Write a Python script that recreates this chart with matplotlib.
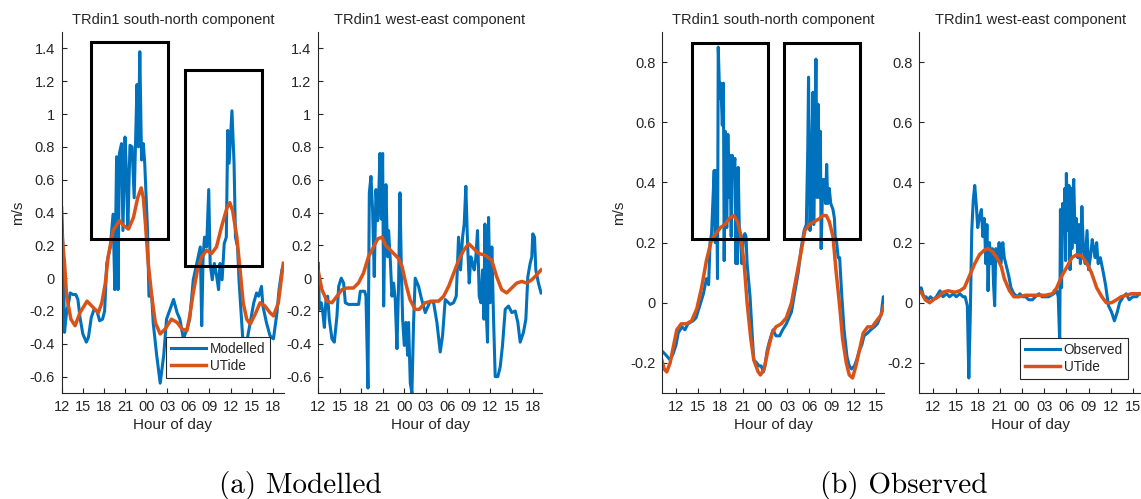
import matplotlib
matplotlib.use("Agg")
import matplotlib.pyplot as plt
from matplotlib.patches import Rectangle
from matplotlib.ticker import FixedLocator, FuncFormatter

plt.rcParams['font.family'] = ['Liberation Sans', 'DejaVu Sans']

BLUE = '#0072BD'
ORANGE = '#D95319'
DARK = '#262626'

# ---- (a) Modelled, south-north ----
mod_sn_t = [12.0, 12.2, 12.4, 12.7, 12.9, 13.2, 13.6, 14.0, 14.3, 14.6, 15.0, 15.5, 15.8, 16.2,
            16.6, 17.0, 17.4, 17.8, 18.1, 18.4, 18.9, 19.3, 19.55, 19.8, 20.0, 20.2, 20.5, 20.7,
            21.0, 21.2, 21.4, 21.7, 22.0, 22.3, 22.7, 22.9, 23.1, 23.35, 23.6, 23.8, 24.2, 24.4,
            24.8, 25.0, 25.5, 26.0, 26.5, 26.9, 27.4, 27.9, 28.4, 28.8, 29.3, 29.8, 30.2, 30.7,
            31.2, 31.7, 31.9, 32.1, 32.3, 32.6, 32.9, 33.1, 33.4, 33.7, 34.0, 34.3, 34.5, 34.8,
            35.1, 35.4, 35.6, 35.8, 36.2, 36.5, 36.7, 37.0, 37.2, 37.5, 37.8, 38.3, 38.8, 39.3,
            39.7, 40.0, 40.4, 40.6, 41.1, 41.6, 42.1, 42.6, 42.9, 43.3, 43.6]
mod_sn_v = [0.43, 0.15, -0.33, -0.20, -0.17, -0.09, -0.10, -0.10, -0.13, -0.24, -0.34, -0.39, -0.36, -0.24,
            -0.19, -0.20, -0.26, -0.25, -0.20, 0.09, 0.19, 0.39, -0.07, 0.74, -0.07, 0.76, 0.82, 0.29,
            0.86, 0.64, 0.30, 0.81, 0.80, 0.49, 1.18, 0.80, 1.38, 0.72, 0.82, 0.70, 0.29, -0.11,
            -0.11, -0.27, -0.47, -0.64, -0.47, -0.25, -0.19, -0.13, -0.21, -0.25, -0.37, -0.31, -0.25, -0.01,
            0.09, 0.19, -0.29, 0.13, 0.25, 0.19, 0.54, 0.09, -0.01, 0.09, 0.02, -0.07, 0.09, -0.01,
            0.21, 0.25, 0.90, 0.70, 1.02, 0.70, 0.25, 0.19, -0.01, -0.21, -0.41, -0.39, -0.27, -0.15,
            -0.09, -0.11, -0.05, -0.17, -0.27, -0.35, -0.37, -0.21, -0.07, 0.05, 0.09]
mod_sn_ut_t = [12.0, 12.4, 12.7, 13.3, 13.9, 14.6, 15.6, 16.5, 17.2, 17.7, 18.2, 18.6, 19.3, 20.2,
               20.8, 21.5, 22.2, 22.8, 23.3, 23.6, 23.9, 24.3, 24.8, 25.3, 26.0, 26.7, 27.6, 28.4,
               29.1, 29.8, 30.2, 30.7, 31.3, 31.9, 32.6, 33.3, 34.0, 34.7, 35.5, 35.9, 36.3, 36.9,
               37.4, 37.8, 38.3, 38.8, 39.5, 40.2, 40.9, 41.6, 42.1, 42.8, 43.5]
mod_sn_ut_v = [0.28, 0.09, -0.11, -0.25, -0.29, -0.21, -0.14, -0.18, -0.21, -0.15, -0.03, 0.13, 0.29, 0.35,
               0.32, 0.30, 0.37, 0.49, 0.55, 0.49, 0.33, 0.09, -0.11, -0.27, -0.34, -0.31, -0.25, -0.27,
               -0.31, -0.32, -0.23, -0.09, 0.05, 0.13, 0.17, 0.15, 0.19, 0.31, 0.43, 0.46, 0.41, 0.25,
               0.03, -0.15, -0.25, -0.28, -0.22, -0.15, -0.17, -0.21, -0.23, -0.15, 0.09]

# ---- (a) Modelled, west-east ----
mod_we_t = [12.0, 12.14, 12.42, 12.6, 12.84, 13.07, 13.3, 13.53, 13.9, 14.23, 14.6, 14.84, 15.2, 15.53,
            15.77, 16.23, 17.16, 17.63, 17.86, 18.47, 18.65, 18.93, 19.12, 19.35, 19.58, 19.81, 20.05,
            20.28, 20.42, 20.6, 20.79, 20.98, 21.12, 21.26, 21.44, 21.67, 21.81, 22.05, 22.28, 22.51,
            22.74, 22.98, 23.21, 23.4, 23.58, 23.77, 24.0, 24.23, 24.47, 24.6, 24.84, 25.07, 25.3,
            25.53, 26.0, 26.37, 26.93, 27.63, 28.1, 28.56, 29.02, 29.35, 29.72, 30.42, 30.88, 31.26,
            31.58, 31.86, 32.14, 32.37, 32.6, 32.84, 33.07, 33.3, 33.53, 33.77, 34.0, 34.23, 34.47,
            34.7, 34.93, 35.12, 35.26, 35.49, 35.63, 35.77, 36.0, 36.23, 36.47, 36.7, 37.07, 37.4,
            37.72, 38.1, 38.56, 39.02, 39.49, 39.86, 40.19, 40.65, 40.98, 41.26, 41.58, 41.81, 41.95,
            42.19, 42.37, 42.74, 43.1]
mod_we_v = [0.09, -0.19, -0.15, -0.20, -0.30, -0.13, -0.11, -0.25, -0.37, -0.39, -0.23, -0.05, 0.0, -0.03,
            -0.15, -0.16, -0.16, -0.16, -0.08, -0.08, -0.11, -0.67, 0.52, 0.62, 0.41, 0.01, 0.54,
            0.35, 0.48, 0.76, 0.36, 0.76, -0.17, 0.23, 0.57, 0.13, 0.29, 0.11, -0.11, -0.03,
            -0.13, -0.43, -0.03, 0.52, 0.09, -0.25, -0.41, -0.27, -0.47, -0.27, -0.64, -0.70, -0.27,
            0.0, -0.05, -0.12, -0.21, -0.14, -0.15, -0.27, -0.45, -0.35, -0.13, -0.16, -0.15, -0.11,
            0.25, 0.05, 0.25, 0.33, 0.56, 0.21, -0.03, 0.13, 0.09, 0.05, 0.13, 0.29, -0.11,
            -0.15, 0.05, -0.25, 0.33, -0.25, -0.39, 0.37, -0.15, 0.19, -0.25, -0.60, -0.60, -0.54,
            -0.41, -0.19, -0.17, -0.21, -0.20, -0.27, -0.39, -0.33, -0.25, 0.01, 0.09, 0.13, 0.27,
            0.25, 0.05, -0.03, -0.09]
mod_we_ut_t = [12.0, 12.5, 13.2, 13.9, 14.6, 15.3, 16.0, 16.9, 17.6, 18.3, 19.0, 19.7, 20.3, 20.9,
               21.4, 22.3, 23.2, 23.7, 24.2, 24.8, 25.5, 26.1, 26.9, 27.9, 28.8, 29.5, 30.2, 30.9,
               31.6, 32.3, 33.0, 33.7, 34.4, 35.3, 36.2, 36.9, 37.6, 38.3, 39.0, 39.7, 40.4, 41.1,
               41.8, 42.5, 43.1]
mod_we_ut_v = [0.04, -0.07, -0.14, -0.15, -0.11, -0.07, -0.06, -0.06, -0.03, 0.03, 0.13, 0.19, 0.24, 0.25,
               0.20, 0.16, 0.12, 0.07, -0.03, -0.13, -0.19, -0.19, -0.15, -0.14, -0.14, -0.11, -0.05, 0.03,
               0.11, 0.17, 0.21, 0.18, 0.15, 0.14, 0.11, 0.01, -0.07, -0.09, -0.06, -0.03, -0.02, -0.03,
               -0.01, 0.02, 0.05]

# ---- (b) Observed, south-north ----
obs_sn_t = [10.07, 10.5, 11.2, 11.6, 12.0, 12.3, 12.8, 13.2, 13.6, 14.3, 14.7, 15.2, 15.7, 16.1,
            16.4, 16.6, 16.8, 17.0, 17.15, 17.3, 17.45, 17.6, 17.7, 17.9, 18.05, 18.25, 18.4, 18.5,
            18.65, 18.85, 19.0, 19.2, 19.3, 19.45, 19.6, 19.75, 19.95, 20.1, 20.2, 20.3, 20.4, 20.55,
            20.75, 20.9, 21.1, 21.3, 21.45, 21.6, 22.0, 22.3, 22.5, 22.9, 23.2, 23.5, 23.8, 24.0,
            24.3, 24.6, 25.1, 25.5, 26.0, 26.4, 26.9, 27.6, 28.0, 28.5, 28.9, 29.3, 29.6, 29.8,
            29.9, 30.1, 30.3, 30.5, 30.6, 30.75, 30.9, 31.05, 31.2, 31.35, 31.5, 31.6, 31.75, 31.9,
            32.0, 32.1, 32.2, 32.35, 32.5, 32.7, 32.9, 33.2, 33.4, 33.5, 33.7, 33.9, 34.1, 34.4,
            34.7, 35.1, 35.4, 35.7, 36.1, 36.4, 36.75, 37.1, 37.4, 37.9, 38.3, 38.8, 39.2, 39.7,
            40.0, 40.1]
obs_sn_v = [-0.16, -0.17, -0.19, -0.17, -0.14, -0.10, -0.08, -0.09, -0.07, -0.06, -0.05, -0.01, 0.03, 0.08,
            0.06, 0.20, 0.23, 0.35, 0.44, 0.20, 0.44, 0.08, 0.85, 0.68, 0.73, 0.59, 0.73, 0.14,
            0.57, 0.25, 0.56, 0.35, 0.49, 0.22, 0.49, 0.44, 0.48, 0.13, 0.35, 0.13, 0.45, 0.24,
            0.20, 0.13, 0.22, 0.23, 0.22, 0.13, 0.02, -0.11, -0.19, -0.20, -0.21, -0.21, -0.23, -0.21,
            -0.16, -0.13, -0.09, -0.11, -0.11, -0.09, -0.07, -0.03, 0.03, 0.10, 0.18, 0.24, 0.26, 0.52,
            0.75, 0.24, 0.46, 0.70, 0.26, 0.52, 0.81, 0.35, 0.66, 0.35, 0.57, 0.18, 0.33, 0.41,
            0.37, 0.41, 0.33, 0.46, 0.33, 0.38, 0.33, 0.31, 0.28, 0.22, 0.20, 0.15, 0.15, 0.02,
            -0.09, -0.18, -0.21, -0.22, -0.21, -0.19, -0.16, -0.14, -0.11, -0.10, -0.09, -0.08, -0.07, -0.04,
            0.02, 0.02]
obs_sn_ut_t = [10.07, 10.4, 10.74, 11.2, 11.6, 12.1, 12.7, 13.4, 14.1, 14.8, 15.45, 16.1, 16.8, 17.4,
               18.0, 18.6, 19.2, 19.8, 20.3, 20.7, 21.2, 21.6, 22.1, 22.5, 23.1, 23.4, 23.9, 24.4,
               25.0, 25.5, 26.2, 26.9, 27.6, 28.2, 28.9, 29.4, 30.0, 30.7, 31.4, 31.8, 32.3, 32.7,
               33.2, 33.6, 34.1, 34.5, 35.0, 35.4, 35.85, 36.3, 36.75, 37.3, 37.9, 38.5, 39.1, 39.7,
               40.1]
obs_sn_ut_v = [-0.19, -0.22, -0.23, -0.20, -0.15, -0.09, -0.07, -0.07, -0.06, -0.02, 0.05, 0.14, 0.21, 0.23,
               0.25, 0.26, 0.28, 0.29, 0.27, 0.23, 0.13, 0.0, -0.12, -0.19, -0.23, -0.24, -0.22, -0.16,
               -0.10, -0.08, -0.07, -0.05, 0.0, 0.08, 0.17, 0.24, 0.26, 0.27, 0.28, 0.29, 0.29, 0.27,
               0.22, 0.11, -0.01, -0.12, -0.20, -0.24, -0.25, -0.21, -0.16, -0.10, -0.08, -0.08, -0.06, -0.04,
               -0.01]

# ---- (b) Observed, west-east ----
obs_we_t = [10.1, 10.35, 10.7, 11.0, 11.3, 11.6, 12.0, 12.4, 12.9, 13.3, 13.8, 14.2, 14.7, 15.1,
            15.6, 16.0, 16.3, 16.6, 16.8, 17.0, 17.2, 17.4, 17.6, 17.8, 18.0, 18.2, 18.5, 18.7,
            18.9, 19.1, 19.25, 19.4, 19.6, 19.8, 20.0, 20.15, 20.3, 20.45, 20.7, 20.9, 21.15, 21.4,
            21.6, 21.8, 22.2, 22.5, 22.9, 23.4, 23.7, 24.1, 24.5, 24.9, 25.4, 25.8, 26.3, 26.7,
            27.2, 27.6, 28.3, 28.7, 28.9, 29.1, 29.2, 29.35, 29.5, 29.65, 29.8, 29.9, 30.0, 30.2,
            30.35, 30.5, 30.6, 30.75, 30.9, 31.0, 31.2, 31.35, 31.55, 31.7, 31.9, 32.1, 32.3, 32.55,
            32.8, 33.0, 33.25, 33.5, 33.7, 33.9, 34.1, 34.3, 34.6, 35.0, 35.3, 35.7, 36.1, 36.5,
            36.9, 37.2, 37.7, 38.1, 38.5, 39.0, 39.5, 39.9]
obs_we_v = [0.04, 0.05, 0.02, 0.02, 0.01, 0.02, 0.01, 0.02, 0.04, 0.02, 0.03, 0.02, 0.03, 0.02,
            0.03, 0.02, 0.02, -0.01, -0.25, -0.04, 0.24, 0.34, 0.39, 0.33, 0.25, 0.28, 0.31, 0.22,
            0.28, 0.13, 0.26, 0.04, 0.20, 0.13, 0.18, 0.06, -0.01, 0.18, 0.15, 0.20, 0.13, 0.20,
            0.15, 0.13, 0.09, 0.05, 0.03, 0.02, 0.03, 0.02, 0.02, 0.01, 0.01, 0.02, 0.03, 0.02,
            0.02, 0.02, 0.03, 0.04, 0.02, -0.13, 0.31, 0.05, 0.33, 0.24, 0.38, 0.14, 0.43, 0.24,
            0.39, 0.11, 0.38, 0.18, 0.37, 0.41, 0.20, 0.28, 0.15, 0.26, 0.13, 0.32, 0.18, 0.13,
            0.24, 0.11, 0.15, 0.21, 0.18, 0.15, 0.20, 0.13, 0.15, 0.10, 0.06, -0.01, -0.03, -0.06,
            -0.03, 0.0, 0.02, 0.03, 0.01, 0.02, 0.02, 0.03]
obs_we_ut_t = [10.1, 10.35, 10.9, 11.5, 12.0, 12.7, 13.3, 14.0, 14.9, 15.6, 16.2, 16.9, 17.6, 18.25,
               18.9, 19.4, 20.0, 20.6, 21.2, 21.6, 22.3, 22.9, 23.6, 24.5, 25.4, 26.3, 27.2, 28.1,
               28.7, 29.4, 30.1, 30.75, 31.4, 32.1, 32.8, 33.4, 34.1, 34.8, 35.4, 36.1, 36.8, 37.4,
               38.1, 38.8, 39.7, 40.1]
obs_we_ut_v = [0.04, 0.035, 0.01, 0.0, 0.01, 0.02, 0.035, 0.04, 0.035, 0.04, 0.05, 0.09, 0.13, 0.16,
               0.175, 0.18, 0.17, 0.15, 0.12, 0.08, 0.04, 0.02, 0.02, 0.025, 0.025, 0.025, 0.025, 0.03,
               0.05, 0.09, 0.12, 0.15, 0.16, 0.155, 0.13, 0.10, 0.05, 0.02, 0.0, 0.0, 0.01, 0.02,
               0.025, 0.03, 0.03, 0.03]

# highlight boxes: (x0, y0, x1, y1)
mod_boxes = [(16.2, 0.24, 27.1, 1.44), (29.5, 0.075, 40.45, 1.27)]
obs_boxes = [(14.2, 0.213, 24.47, 0.862), (26.55, 0.213, 36.9, 0.862)]

mod_ticks = list(range(12, 43, 3))
obs_ticks = list(range(12, 40, 3))


def hour_fmt(x, pos):
    return "%02d" % (int(round(x)) % 24)


def val_fmt(y, pos):
    y = round(y, 1)
    if y == 0:
        return "0"
    return "%g" % y


def style_axes(ax, xlim, ylim, xticks, yticks, title):
    ax.set_xlim(*xlim)
    ax.set_ylim(*ylim)
    ax.xaxis.set_major_locator(FixedLocator(xticks))
    ax.xaxis.set_major_formatter(FuncFormatter(hour_fmt))
    ax.yaxis.set_major_locator(FixedLocator(yticks))
    ax.yaxis.set_major_formatter(FuncFormatter(val_fmt))
    for s in ['top', 'right']:
        ax.spines[s].set_visible(False)
    for s in ['left', 'bottom']:
        ax.spines[s].set_color(DARK)
        ax.spines[s].set_linewidth(0.8)
    ax.tick_params(direction='in', length=3.5, width=0.8, colors=DARK, labelsize=10.5, pad=5)
    ax.set_title(title, fontsize=10.5, color=DARK, pad=6)
    ax.set_xlabel("Hour of day", fontsize=11, color=DARK, labelpad=3)


def draw(ax, t, v, ut_t, ut_v, label):
    ax.plot(t, v, color=BLUE, lw=2.2, label=label)
    ax.plot(ut_t, ut_v, color=ORANGE, lw=2.5, label="UTide")


def add_boxes(ax, boxes):
    for x0, y0, x1, y1 in boxes:
        ax.add_patch(Rectangle((x0, y0), x1 - x0, y1 - y0, fill=False,
                               edgecolor='black', lw=2.2, zorder=5))


def add_legend(ax, anchor):
    leg = ax.legend(loc='lower right', bbox_to_anchor=anchor, borderaxespad=0,
                    fontsize=9.8, handlelength=2.6, handletextpad=0.25,
                    borderpad=0.35, labelspacing=0.25, fancybox=False, framealpha=1)
    leg.get_frame().set_edgecolor(DARK)
    leg.get_frame().set_linewidth(0.8)
    for txt in leg.get_texts():
        txt.set_color(DARK)


fig = plt.figure(figsize=(11.41, 4.99), dpi=100)

ax1 = fig.add_axes([0.0541, 0.2124, 0.1948, 0.7234])
ax2 = fig.add_axes([0.2790, 0.2124, 0.1958, 0.7234])
ax3 = fig.add_axes([0.5805, 0.2124, 0.1943, 0.7234])
ax4 = fig.add_axes([0.8057, 0.2124, 0.1943, 0.7234])

mod_yticks = [round(-0.6 + 0.2 * i, 1) for i in range(11)]
obs_yticks = [round(-0.2 + 0.2 * i, 1) for i in range(6)]

draw(ax1, mod_sn_t, mod_sn_v, mod_sn_ut_t, mod_sn_ut_v, "Modelled")
style_axes(ax1, (12, 43.6), (-0.7, 1.5), mod_ticks, mod_yticks, "TRdin1 south-north component")
add_boxes(ax1, mod_boxes)
add_legend(ax1, (0.937, 0.042))
ax1.set_ylabel("m/s", fontsize=11, color=DARK)
ax1.yaxis.set_label_coords(-0.165, 0.5)

draw(ax2, mod_we_t, mod_we_v, mod_we_ut_t, mod_we_ut_v, "Modelled")
style_axes(ax2, (12, 43.2), (-0.7, 1.5), mod_ticks, mod_yticks, "TRdin1 west-east component")

draw(ax3, obs_sn_t, obs_sn_v, obs_sn_ut_t, obs_sn_ut_v, "Observed")
style_axes(ax3, (10.15, 40.1), (-0.3, 0.9), obs_ticks, obs_yticks, "TRdin1 south-north component")
add_boxes(ax3, obs_boxes)
ax3.set_ylabel("m/s", fontsize=11, color=DARK)
ax3.yaxis.set_label_coords(-0.165, 0.5)

draw(ax4, obs_we_t, obs_we_v, obs_we_ut_t, obs_we_ut_v, "Observed")
style_axes(ax4, (10.1, 40.1), (-0.3, 0.9), obs_ticks, obs_yticks, "TRdin1 west-east component")
add_legend(ax4, (0.94, 0.039))

fig.text(0.263, 0.028, "(a) Modelled", fontsize=21, family='cmr10', ha='center', va='center')
fig.text(0.792, 0.028, "(b) Observed", fontsize=21, family='cmr10', ha='center', va='center')

fig.savefig("out.png", dpi=100)
